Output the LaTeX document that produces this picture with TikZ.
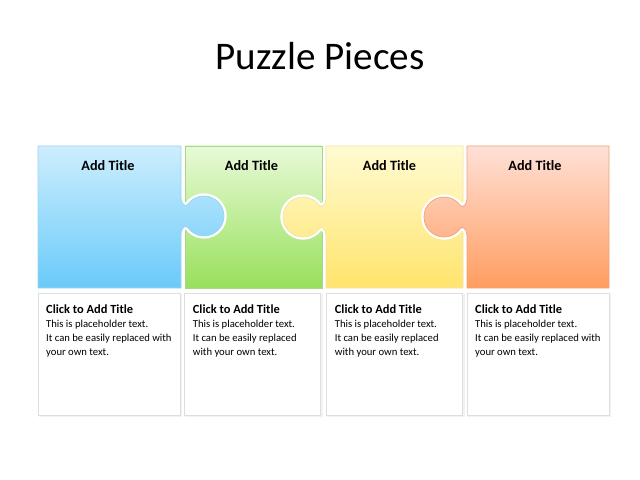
\documentclass[tikz,border=0pt]{standalone}
\usepackage{fontspec}
\setmainfont{Carlito}
\definecolor{bT}{HTML}{CDEEFD}\definecolor{bM}{HTML}{86D4FA}\definecolor{bB}{HTML}{6ACAFA}\definecolor{bE}{HTML}{9FD3EA}
\definecolor{gT}{HTML}{E8FAD8}\definecolor{gM}{HTML}{BDED95}\definecolor{gB}{HTML}{98E05C}\definecolor{gE}{HTML}{A8D48C}
\definecolor{yT}{HTML}{FFFBD2}\definecolor{yM}{HTML}{FFF1A4}\definecolor{yB}{HTML}{FFE46C}\definecolor{yE}{HTML}{F1E3A6}
\definecolor{oT}{HTML}{FFE0D6}\definecolor{oM}{HTML}{FFC3A0}\definecolor{oB}{HTML}{FF9D60}\definecolor{oE}{HTML}{F0A47A}
\newcommand\rtab[3]{-- (#1,#3-18) .. controls (#1,#3-13) and (#2-18.7,#3-8.2) .. (#2-16.38,#3-11.47) arc[start angle=215,end angle=505,radius=20] .. controls (#2-18.7,#3+8.2) and (#1,#3+13) .. (#1,#3+18)}
\newcommand\ltab[3]{-- (#1,#3+18) .. controls (#1,#3+13) and (#2+18.7,#3+8.2) .. (#2+16.38,#3+11.47) arc[start angle=35,end angle=325,radius=20] .. controls (#2+18.7,#3-8.2) and (#1,#3-13) .. (#1,#3-18)}
\begin{document}
\begin{tikzpicture}[x=1.125pt,y=-1.125pt,
  piece/.style={preaction={draw=white,line width=6pt},line width=0.8pt,line join=round},
  ptitle/.style={anchor=base,inner sep=0,font=\bfseries\fontsize{16}{19}\selectfont},
  infobox/.style={draw=black!13,line width=0.9pt,fill=white},
  ttl/.style={anchor=base west,inner sep=0,font=\bfseries\fontsize{14}{17}\selectfont},
  tline/.style={anchor=base west,inner sep=0,font=\fontsize{12}{14}\selectfont}]
\useasboundingbox[fill=white] (0,0) rectangle (640,480);
\node[anchor=base,inner sep=0,font=\fontsize{44}{53}\selectfont] (main) at (320,70) {Puzzle Pieces};
% pieces
\path[piece,draw=gE,top color=gT,middle color=gM,bottom color=gB] (185,146) rectangle (322,288);
\path[piece,draw=yE,top color=yT,middle color=yM,bottom color=yB] (326,146) -- (463,146) -- (463,288) -- (326,288) \ltab{326}{303}{217} -- cycle;
\path[piece,draw=oE,top color=oT,middle color=oM,bottom color=oB] (467,146) -- (609,146) -- (609,288) -- (467,288) \ltab{467}{444}{217} -- cycle;
\path[piece,draw=bE,top color=bT,middle color=bM,bottom color=bB] (38,146) -- (181,146) \rtab{181}{204}{216} -- (181,288) -- (38,288) -- cycle;
\node[ptitle] (p1) at (108,170.5) {Add Title};
\node[ptitle] (p2) at (251.5,170.5) {Add Title};
\node[ptitle] (p3) at (389.5,170.5) {Add Title};
\node[ptitle] (p4) at (535,170.5) {Add Title};
% boxes
\draw[black!5,line width=1.5pt] (39,416) -- (181,416) -- (181,294);
\draw[black!5,line width=1.5pt] (185,416) -- (322,416) -- (322,294);
\draw[black!5,line width=1.5pt] (327,416) -- (464,416) -- (464,294);
\draw[black!5,line width=1.5pt] (468,416) -- (610,416) -- (610,294);
\draw[infobox] (38,293) rectangle (180,415);
\draw[infobox] (184.5,293) rectangle (320.5,415);
\draw[infobox] (326,293) rectangle (462.5,415);
\draw[infobox] (467,293) rectangle (609,415);
% texts
\node[ttl] (a1) at (46,313) {Click to Add Title};
\node[tline] (a2) at (46,327.5) {This is placeholder text.};
\node[tline] (a3) at (46,341.5) {It can be easily replaced with};
\node[tline] (a4) at (46,355.5) {your own text.};
\node[ttl] (b1) at (192.7,313) {Click to Add Title};
\node[tline] (b2) at (192.7,327.5) {This is placeholder text.};
\node[tline] (b3) at (192.7,341.5) {It can be easily replaced};
\node[tline] (b4) at (192.7,355.5) {with your own text.};
\node[ttl] (c1) at (334.7,313) {Click to Add Title};
\node[tline] (c2) at (334.7,327.5) {This is placeholder text.};
\node[tline] (c3) at (334.7,341.5) {It can be easily replaced};
\node[tline] (c4) at (334.7,355.5) {with your own text.};
\node[ttl] (d1) at (475,313) {Click to Add Title};
\node[tline] (d2) at (475,327.5) {This is placeholder text.};
\node[tline] (d3) at (475,341.5) {It can be easily replaced with};
\node[tline] (d4) at (475,355.5) {your own text.};
\end{tikzpicture}
\end{document}
